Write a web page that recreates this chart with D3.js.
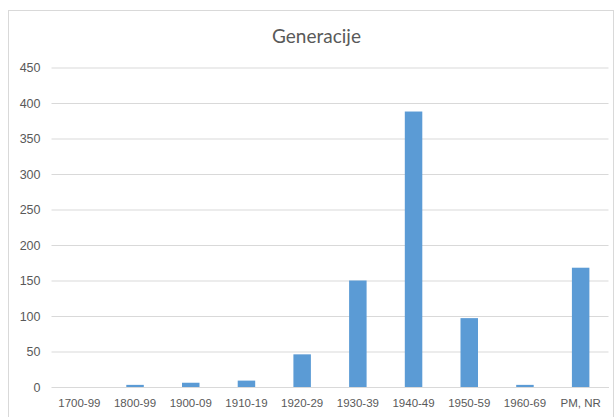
<!DOCTYPE html>
<html>
<head>
<meta charset="utf-8">
<script src="https://cdn.jsdelivr.net/npm/d3@7"></script>
<style>
  html, body { margin: 0; padding: 0; background: #fff; }
  svg { display: block; font-family: Lato, "Liberation Sans", sans-serif; }
</style>
</head>
<body>
<svg id="chart" width="616" height="417"></svg>
<script>
// Birth-decade groups and respondent counts
const categories = ["1700-99", "1800-99", "1900-09", "1910-19", "1920-29",
                    "1930-39", "1940-49", "1950-59", "1960-69", "PM, NR"];
const counts = [0, 3, 6, 9, 46, 150, 388, 97, 3, 168];
const yTicks = [0, 50, 100, 150, 200, 250, 300, 350, 400, 450];
const title = "Generacije";

const svg = d3.select("#chart");
const plot = { left: 51.5, right: 608.5, top: 67.5, bottom: 387 };

// Outer chart frame
svg.append("rect")
  .attr("x", 8.5).attr("y", 10.5)
  .attr("width", 605).attr("height", 420)
  .attr("fill", "#fff")
  .attr("stroke", "#d9d9d9").attr("stroke-width", 1);

const x = d3.scaleBand()
  .domain(categories)
  .range([plot.left, plot.right])
  .paddingInner(0.686)
  .paddingOuter(0.343);

const y = d3.scaleLinear()
  .domain([0, 450])
  .range([plot.bottom, plot.top]);

// Horizontal gridlines with value labels
const yAxis = d3.axisLeft(y)
  .tickValues(yTicks)
  .tickSize(-(plot.right - plot.left))
  .tickPadding(11)
  .tickFormat(d3.format("d"));

const gy = svg.append("g")
  .attr("transform", `translate(${plot.left},0)`)
  .call(yAxis);
gy.select(".domain").remove();
gy.selectAll(".tick line").attr("stroke", "#d9d9d9").attr("stroke-width", 1);
gy.selectAll(".tick text")
  .attr("fill", "#595959")
  .style("font-size", "12.5px");

// Category axis
const xAxis = d3.axisBottom(x).tickSize(0).tickPadding(12);
const gx = svg.append("g")
  .attr("transform", `translate(0,${plot.bottom})`)
  .call(xAxis);
gx.select(".domain").attr("stroke", "#d9d9d9");
gx.selectAll(".tick text")
  .attr("fill", "#595959")
  .style("font-size", "11.5px");

// Bars
svg.append("g")
  .selectAll("rect")
  .data(categories.map((c, i) => ({ c, v: counts[i] })))
  .join("rect")
  .attr("x", d => x(d.c))
  .attr("width", x.bandwidth())
  .attr("y", d => y(d.v))
  .attr("height", d => y(0) - y(d.v))
  .attr("fill", "#5b9bd5");

// Title
svg.append("text")
  .attr("x", 316.5).attr("y", 43)
  .attr("text-anchor", "middle")
  .attr("fill", "#595959")
  .style("font-size", "19px")
  .text(title);
</script>
</body>
</html>
